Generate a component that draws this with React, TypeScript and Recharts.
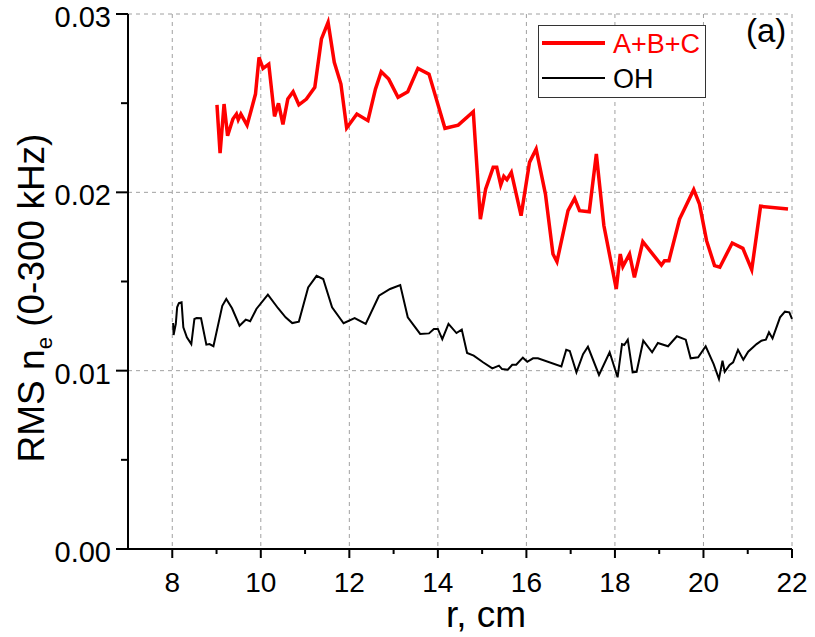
import React from "react";
import {
  LineChart,
  Line,
  XAxis,
  YAxis,
  CartesianGrid,
  Legend,
} from "recharts";

// ---------------------------------------------------------------------------
// data (r in cm, RMS n_e in 0-300 kHz band)
// ---------------------------------------------------------------------------
const abcR = [
  9.01, 9.08, 9.17, 9.25, 9.37, 9.45, 9.49, 9.55, 9.69, 9.79, 9.88, 9.96,
  10.05, 10.18, 10.31, 10.4, 10.5, 10.61, 10.73, 10.86, 11.03, 11.22, 11.37,
  11.52, 11.66, 11.81, 11.94, 12.17, 12.42, 12.59, 12.72, 12.89, 13.1, 13.32,
  13.55, 13.8, 14.16, 14.46, 14.8, 14.96, 15.08, 15.25, 15.33, 15.42, 15.49,
  15.56, 15.66, 15.88, 16.07, 16.22, 16.43, 16.6, 16.69, 16.94, 17.09, 17.2,
  17.42, 17.58, 17.75, 18.03, 18.12, 18.18, 18.33, 18.44, 18.63, 19.05, 19.12,
  19.22, 19.46, 19.78, 19.91, 20.07, 20.25, 20.37, 20.65, 20.89, 21.09, 21.29,
  21.91,
];
const abcRms = [
  0.0249, 0.0222, 0.02495, 0.02317, 0.02411, 0.02439, 0.02407, 0.02439,
  0.02377, 0.02467, 0.02551, 0.02757, 0.02695, 0.02719, 0.02426, 0.02499,
  0.02381, 0.02523, 0.02564, 0.02491, 0.02523, 0.02589, 0.0286, 0.02953,
  0.02729, 0.02607, 0.02361, 0.02439, 0.02402, 0.02579, 0.02676, 0.02635,
  0.02533, 0.02564, 0.02695, 0.02663, 0.02359, 0.02377, 0.02452, 0.0185,
  0.02019, 0.0214, 0.0214, 0.02041, 0.0209, 0.02071, 0.02112, 0.01869,
  0.02168, 0.02243, 0.0199, 0.01654, 0.01611, 0.01897, 0.01966, 0.01897,
  0.01891, 0.02215, 0.01814, 0.01458, 0.01654, 0.01584, 0.01654, 0.01523,
  0.01723, 0.01592, 0.01617, 0.01617, 0.0185, 0.02015, 0.01934, 0.01729,
  0.01589, 0.0158, 0.01716, 0.01686, 0.01566, 0.01922, 0.01906,
];

const ohR = [
  8.02, 8.03, 8.08, 8.11, 8.15, 8.21, 8.25, 8.33, 8.43, 8.5, 8.55, 8.65, 8.77,
  8.84, 8.93, 9.13, 9.22, 9.35, 9.52, 9.66, 9.76, 9.9, 10.16, 10.39, 10.56,
  10.71, 10.86, 11.07, 11.26, 11.41, 11.61, 11.87, 12.12, 12.37, 12.67, 12.92,
  13.15, 13.32, 13.6, 13.8, 13.91, 14.0, 14.1, 14.24, 14.42, 14.54, 14.66,
  14.81, 15.02, 15.23, 15.38, 15.45, 15.58, 15.68, 15.77, 15.92, 16.02, 16.15,
  16.26, 16.79, 16.9, 16.98, 17.13, 17.28, 17.39, 17.64, 17.88, 18.06, 18.16,
  18.21, 18.29, 18.4, 18.49, 18.64, 18.84, 18.97, 19.2, 19.4, 19.6, 19.71,
  19.88, 20.05, 20.23, 20.35, 20.43, 20.48, 20.59, 20.67, 20.78, 20.9, 21.01,
  21.2, 21.31, 21.41, 21.48, 21.56, 21.73, 21.84, 21.94, 22.0,
];
const ohRms = [
  0.01267, 0.012, 0.01262, 0.01355, 0.01379, 0.01383, 0.01243, 0.01187,
  0.01149, 0.0129, 0.01295, 0.01294, 0.01146, 0.01149, 0.01137, 0.01364,
  0.01402, 0.0135, 0.01252, 0.01286, 0.01277, 0.01346, 0.01426, 0.0135,
  0.01299, 0.01267, 0.01275, 0.01467, 0.01532, 0.01514, 0.01355, 0.01266,
  0.01295, 0.01262, 0.0142, 0.01458, 0.0148, 0.01299, 0.01206, 0.01209,
  0.01234, 0.01234, 0.01177, 0.01262, 0.01211, 0.0123, 0.01099, 0.01084,
  0.01047, 0.01013, 0.01028, 0.01009, 0.01005, 0.01033, 0.01033, 0.01073,
  0.0105, 0.01069, 0.01069, 0.01024, 0.01117, 0.0111, 0.00991, 0.01093,
  0.01134, 0.00976, 0.01103, 0.00963, 0.01149, 0.01144, 0.01174, 0.00991,
  0.00994, 0.01168, 0.01103, 0.01155, 0.01137, 0.01193, 0.01174, 0.01069,
  0.01075, 0.01137, 0.01037, 0.00953, 0.01056, 0.00994, 0.01032, 0.01047,
  0.01117, 0.01061, 0.01106, 0.01149, 0.01168, 0.01174, 0.01215, 0.01181,
  0.01299, 0.01331, 0.01327, 0.0129,
];

const xTicks = [8, 9, 10, 11, 12, 13, 14, 15, 16, 17, 18, 19, 20, 21, 22];
const yTicks = [0, 0.005, 0.01, 0.015, 0.02, 0.025, 0.03];
const xGrid = [8, 10, 12, 14, 16, 18, 20, 22];
const yGrid = [0.01, 0.02, 0.03];

const abcData = abcR.map((r, i) => ({ r, rms: abcRms[i] }));
const ohData = ohR.map((r, i) => ({ r, rms: ohRms[i] }));

const FONT = "'Liberation Sans', Arial, sans-serif";

// ticks: long mark + label on major, short mark on minor
const XTick = (props: any) => {
  const { x, y, payload } = props;
  const v = payload.value;
  const major = v % 2 === 0;
  return (
    <g>
      <line x1={x} x2={x} y1={y} y2={y + (major ? 9 : 5)} stroke="#000" strokeWidth={2} />
      {major && (
        <text x={x} y={y + 43} textAnchor="middle" fontSize={28} fontFamily={FONT} fill="#000">
          {v}
        </text>
      )}
    </g>
  );
};

const YTick = (props: any) => {
  const { x, y, payload } = props;
  const v = payload.value;
  const major = Math.round(v * 1000) % 10 === 0;
  return (
    <g>
      <line x1={x - (major ? 12 : 7)} x2={x} y1={y} y2={y} stroke="#000" strokeWidth={2} />
      {major && (
        <text x={x - 17} y={y + 13} textAnchor="end" fontSize={29} fontFamily={FONT} fill="#000">
          {v.toFixed(2)}
        </text>
      )}
    </g>
  );
};

const YTitle = () => (
  <text transform="translate(44,298) rotate(-90)" textAnchor="middle" fontSize={37} fontFamily={FONT} fill="#000">
    RMS n
    <tspan fontSize={22} dy={8}>e</tspan>
    <tspan fontSize={37} dy={-8}> (0-300 kHz)</tspan>
  </text>
);

const XTitle = () => (
  <text x={486} y={627} textAnchor="middle" fontSize={37} fontFamily={FONT} fill="#000">
    r, cm
  </text>
);

const LegendBox = () => (
  <svg width={168} height={73} style={{ display: "block" }}>
    <rect x={0.5} y={0.5} width={167} height={72} fill="#fff" stroke="#333" />
    <line x1={4} x2={67} y1={18} y2={18} stroke="#ff0000" strokeWidth={4} />
    <text x={75} y={28} fontSize={27} fontFamily={FONT} fill="#ff0000">A+B+C</text>
    <line x1={4} x2={67} y1={53} y2={53} stroke="#000" strokeWidth={2} />
    <text x={75} y={63} fontSize={27} fontFamily={FONT} fill="#000">OH</text>
  </svg>
);

const App = () => {
  return (
    <div style={{ position: "absolute", left: 0, top: 0, width: 815, height: 637, background: "#fff", fontFamily: FONT }}>
      <LineChart width={815} height={637} margin={{ top: 14, right: 23, bottom: 0, left: 0 }}>
        <CartesianGrid
          horizontalValues={yGrid}
          verticalValues={xGrid}
          stroke="#a0a0a0"
          strokeDasharray="4 4"
          strokeWidth={1}
        />
        <XAxis
          type="number"
          dataKey="r"
          domain={[7, 22]}
          ticks={xTicks}
          interval={0}
          height={88}
          tickSize={0}
          tickMargin={0}
          tickLine={false}
          axisLine={{ stroke: "#000", strokeWidth: 2 }}
          tick={<XTick />}
          label={<XTitle />}
        />
        <YAxis
          type="number"
          dataKey="rms"
          domain={[0, 0.03]}
          ticks={yTicks}
          interval={0}
          width={128}
          tickSize={0}
          tickMargin={0}
          tickLine={false}
          axisLine={{ stroke: "#000", strokeWidth: 2 }}
          tick={<YTick />}
          label={<YTitle />}
        />
        <Legend
          layout="vertical"
          align="center"
          verticalAlign="middle"
          wrapperStyle={{ left: 538, top: 25, width: 168, height: 73 }}
          content={() => <LegendBox />}
        />
        <Line
          data={ohData}
          type="linear"
          dataKey="rms"
          stroke="#000"
          strokeWidth={2}
          dot={false}
          activeDot={false}
          isAnimationActive={false}
          name="OH"
        />
        <Line
          data={abcData}
          type="linear"
          dataKey="rms"
          stroke="#ff0000"
          strokeWidth={3.5}
          dot={false}
          activeDot={false}
          isAnimationActive={false}
          name="A+B+C"
        />
      </LineChart>
      <div style={{ position: "absolute", left: 746, top: 14, fontSize: 33, lineHeight: "33px", color: "#000" }}>
        (a)
      </div>
    </div>
  );
};

export default App;
